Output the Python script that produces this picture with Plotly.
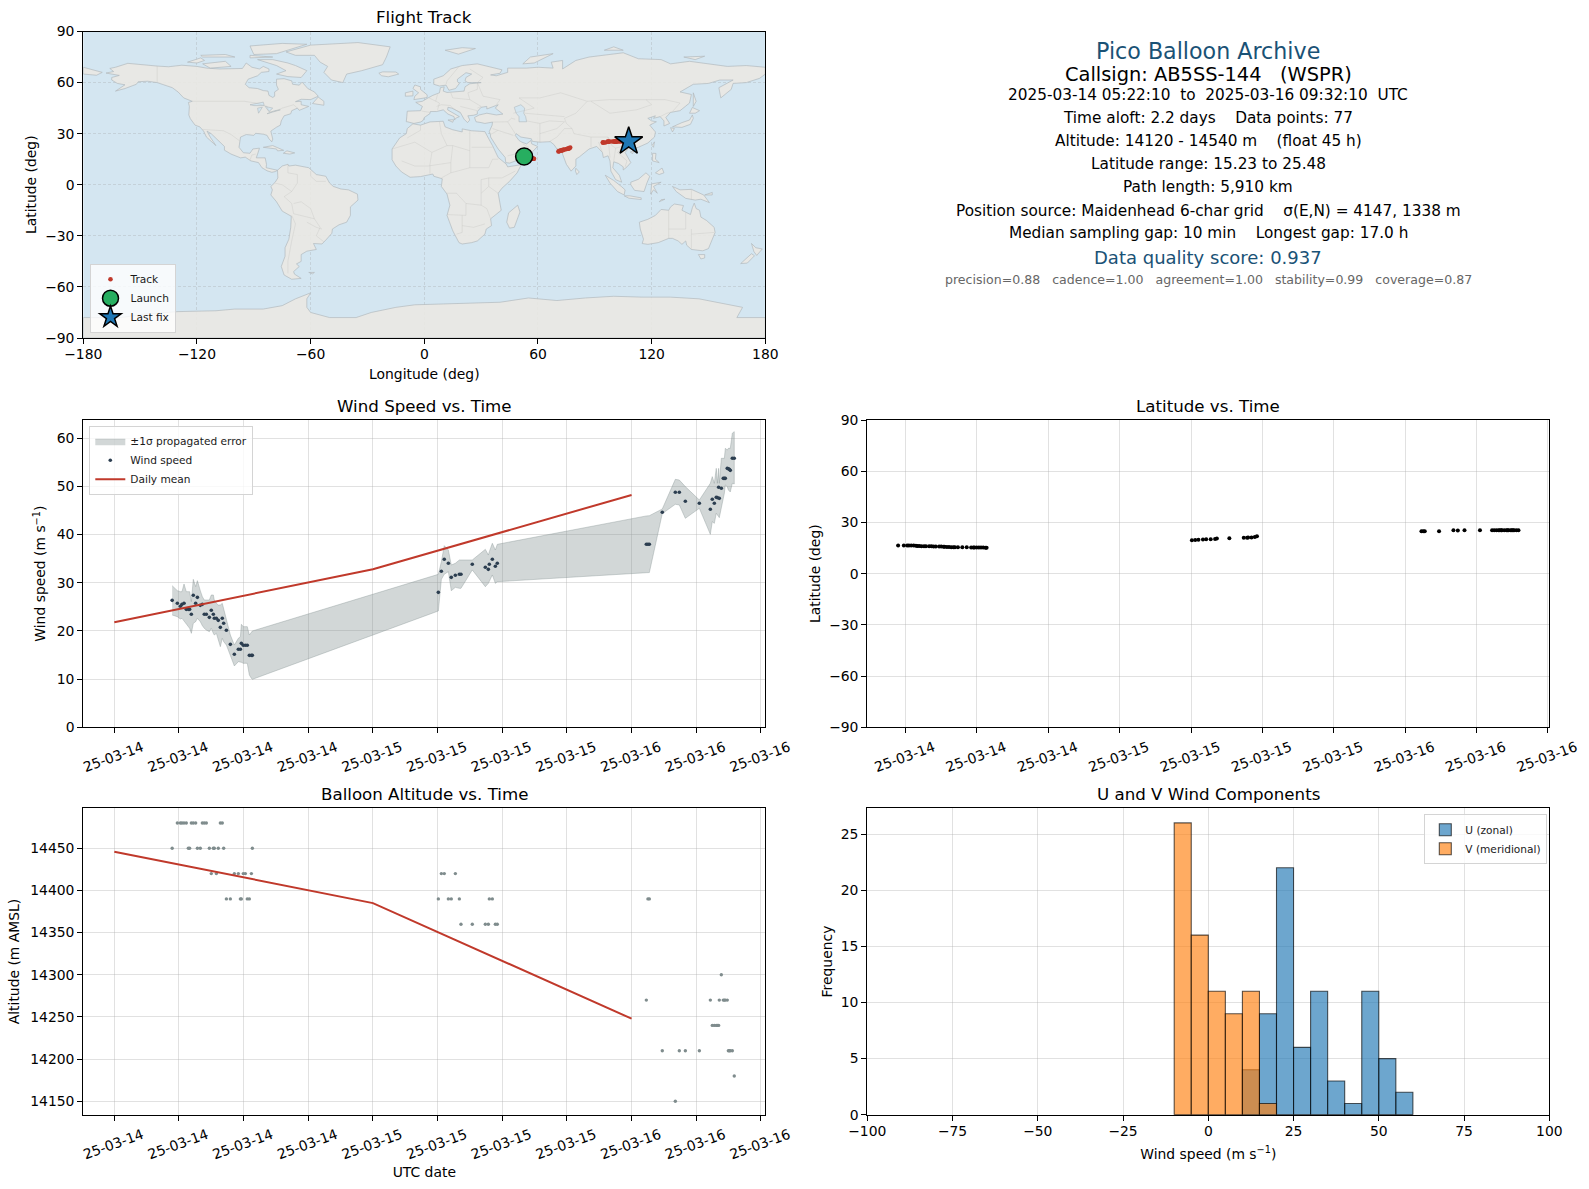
import pandas as pd
import plotly.graph_objects as go

# ---------- time series (hours after 2025-03-14 00:00 UTC) ----------
BASE = pd.Timestamp("2025-03-14 00:00:00")
hours = [5.37,5.85,6.13,6.28,6.47,6.68,6.87,6.99,7.15,7.33,7.55,7.71,7.98,8.17,8.35,8.54,8.82,9.00,9.19,9.28,9.47,9.65,9.84,10.02,10.15,10.40,10.77,11.14,11.51,11.70,11.79,11.97,12.16,12.34,12.53,12.72,12.81,
         30.07,30.35,30.62,31.00,31.27,31.65,32.02,32.17,33.22,34.43,34.71,34.80,35.08,35.36,35.54,
         49.37,49.52,49.65,50.85,52.06,52.43,52.99,54.29,55.31,55.49,55.68,55.86,55.96,56.08,56.14,56.33,56.51,56.61,56.70,56.88,56.98,57.07,57.16,57.35,57.53]
wind = [26.34,25.72,25.10,25.51,25.72,24.47,24.47,24.47,23.44,27.38,25.72,26.96,25.30,25.51,23.44,23.44,22.81,24.27,23.44,22.61,22.61,22.19,20.74,22.61,21.57,20.12,17.21,15.14,16.18,16.18,17.42,17.01,17.01,17.01,14.93,14.93,14.93,
        28.00,32.36,34.85,34.02,31.11,31.53,31.74,31.74,33.81,33.19,32.77,33.81,34.85,33.40,34.02,
        37.96,37.96,37.96,44.60,48.75,48.75,46.88,46.47,45.22,47.30,46.47,47.71,47.64,49.79,47.50,49.58,51.65,51.65,51.65,53.72,53.65,53.51,53.30,55.80,55.80]
wind_upper = [29.38,28.35,28.14,28.14,29.73,28.14,28.14,28.14,26.07,30.70,29.18,30.42,28.35,27.10,26.41,26.41,26.41,27.45,27.45,26.41,25.72,25.37,25.37,25.72,24.68,22.61,19.15,17.07,18.46,18.80,21.36,20.88,20.88,20.88,19.15,19.70,19.98,
              31.74,34.36,37.68,36.78,33.67,34.02,34.71,34.71,34.71,36.92,35.74,36.44,38.17,36.78,37.96,
              43.85,43.85,43.90,45.29,51.44,51.30,49.93,47.16,50.62,52.00,50.62,53.72,50.62,53.72,50.62,55.80,55.80,55.80,57.87,57.52,57.87,57.87,57.87,61.02,61.33]
wind_lower = [23.30,22.95,22.47,22.61,22.05,21.36,20.88,20.53,19.49,21.56,21.92,22.61,21.92,21.09,20.53,20.18,19.84,20.53,19.49,19.15,19.49,18.46,16.73,18.46,17.77,17.07,15.00,12.72,13.62,13.48,13.48,13.27,13.27,13.27,10.85,10.16,9.95,
              24.13,30.69,31.74,32.29,28.34,29.03,28.83,28.83,32.64,29.17,29.86,30.35,31.60,29.86,30.21,
              32.07,32.07,32.10,44.33,46.26,46.12,43.35,45.43,40.03,42.66,42.31,44.39,44.05,43.70,43.49,46.12,47.50,48.55,50.27,49.93,49.24,49.03,48.82,50.62,50.48]
altitude = [14450,14480,14480,14480,14480,14480,14450,14450,14480,14480,14480,14450,14450,14480,14480,14480,14450,14420,14450,14450,14420,14450,14480,14480,14450,14390,14390,14420,14420,14390,14390,14420,14420,14390,14390,14420,14450,
            14390,14420,14420,14390,14390,14420,14390,14360,14360,14360,14360,14390,14390,14360,14360,
            14270,14390,14390,14210,14150,14210,14210,14210,14270,14240,14240,14240,14240,14240,14270,14300,14270,14270,14270,14270,14210,14210,14210,14210,14180]
latitude = [16.56,16.52,16.48,16.48,16.44,16.44,16.35,16.23,16.15,16.10,16.06,16.02,15.98,15.98,15.94,15.94,15.90,15.85,15.81,15.77,15.60,15.56,15.52,15.48,15.44,15.44,15.40,15.40,15.35,15.35,15.31,15.31,15.27,15.27,15.27,15.23,15.23,
            19.52,19.69,19.85,20.02,20.10,20.19,20.27,20.60,20.73,21.02,21.10,21.15,21.23,21.40,21.85,
            24.85,24.85,24.85,24.81,25.35,25.31,25.35,25.40,25.44,25.44,25.44,25.44,25.44,25.44,25.44,25.44,25.44,25.44,25.48,25.48,25.48,25.48,25.48,25.48,25.48]
longitude = [52.7,52.8,53.0,53.1,53.2,53.3,53.5,53.6,53.7,53.8,53.9,54.1,54.2,54.3,54.4,54.5,54.6,54.8,54.9,55.0,55.1,55.3,55.4,55.5,55.7,55.8,56.0,56.2,56.4,56.6,56.7,56.8,57.0,57.2,57.4,57.7,57.9,
             70.8,71.1,71.4,71.9,72.3,72.7,73.1,73.4,74.2,75.2,75.6,75.8,76.2,76.6,77.0,
             94.2,94.4,94.6,95.6,96.8,97.2,97.8,99.2,100.2,100.4,100.6,100.9,101.0,101.1,101.2,101.4,102.2,103.0,103.8,104.6,105.2,105.8,106.4,107.2,107.9]

mean_hours = [0, 24, 48]
mean_wind = [21.8, 32.8, 48.2]
mean_altitude = [14446, 14385, 14248]

# ---------- histogram ----------
bin_centers = [-7.5, -2.5, 2.5, 7.5, 12.5, 17.5, 22.5, 27.5, 32.5, 37.5, 42.5, 47.5, 52.5, 57.5]
u_counts = [0, 0, 0, 0, 4, 9, 22, 6, 11, 3, 1, 11, 5, 2]
v_counts = [26, 16, 11, 9, 11, 1, 0, 0, 0, 0, 0, 0, 0, 0]

# ---------- basemap outlines (lon, lat) ----------
NORTH_AMERICA = [(-168,65.6),(-164,66.5),(-166,68.3),(-163,69),(-156.5,71.3),(-150,70.5),(-141,69.7),(-135,69.3),(-128,70.2),(-120,69.5),(-115,68.5),(-108,68),(-100,68),(-96,68.3),(-94,71.5),(-91,69),(-87,68),(-85,69.5),(-82,68),(-82,66.5),(-86,66),(-88,64),(-93,62),(-94.5,59),(-92.5,57),(-88,56.5),(-85,55.3),(-82.5,55),(-82,52.5),(-80,51.3),(-79,52),(-79,54.5),(-77,56),(-78,58.5),(-78,62),(-74,62.3),(-70,61),(-69.5,59),(-66,58.5),(-64.5,60.3),(-61.5,56.5),(-58,54.5),(-56,52),(-60,50),(-65,50.2),(-68,48.8),(-65,49),(-65,47),(-61,46),(-64,44.5),(-66,43.7),(-67,45),(-70,43.5),(-70.5,41.7),(-74,40.5),(-75.5,37.5),(-76,35),(-78,33.8),(-81,31.5),(-80,26.8),(-80.5,25.2),(-82,27),(-83,29),(-85,29.7),(-89,30.2),(-90,29),(-94,29.5),(-97,28),(-97.5,25),(-97.8,22),(-95.5,18.8),(-92,18.5),(-90.5,21),(-87,21.5),(-88,18),(-88.7,15.8),(-84,15.8),(-83.3,12),(-83.5,10),(-80,9),(-77.5,8.5),(-78.5,7.8),(-80.5,7.3),(-83,8.2),(-85.7,10),(-87.5,13),(-91.5,14),(-94.5,16.2),(-97,15.8),(-102,18),(-105.5,20.3),(-105.5,22.5),(-109,26),(-112.5,30),(-114.7,31.5),(-113,28),(-110,23),(-112,24.8),(-115,28),(-116.5,31.5),(-118.5,34),(-121,35),(-123.5,38.8),(-124.3,41),(-124,46),(-124.5,48.3),(-122.5,49),(-127,51),(-130,54.5),(-133,57),(-137,58.5),(-141,60),(-146,60.8),(-151,60.5),(-152,59),(-158,56.5),(-163,55),(-158,58.7),(-162,59.5),(-165,61.5),(-165,63),(-161,64.2),(-168,65.6)]
SOUTH_AMERICA = [(-77.5,8.5),(-75,11),(-72,12),(-71.5,11),(-68,11.5),(-64,10.5),(-61,10),(-57,6),(-52,5),(-50,1),(-48,-1),(-44,-2.5),(-40,-3),(-35.3,-5.5),(-35,-9),(-39,-13),(-39,-18),(-41,-22),(-45,-23.5),(-48.5,-26),(-48.8,-28.5),(-52,-32.5),(-54,-34.8),(-58.5,-34.5),(-57,-38),(-62,-39),(-65,-41),(-65,-45),(-67.5,-46.5),(-66,-48),(-69,-51),(-68.5,-52.5),(-65,-55),(-70,-55.5),(-74,-53),(-75.5,-48),(-73.5,-42),(-73.5,-37),(-71.5,-32),(-70.5,-25),(-70.2,-18.5),(-75,-15.5),(-78,-10),(-81,-6),(-80.2,-3),(-81,-1),(-78.7,1.5),(-77.3,4),(-77.5,7),(-77.5,8.5)]
AFRICA = [(-17,14.7),(-17,21),(-13,27.5),(-9.5,30),(-9,33),(-6,35.8),(-2,35),(3,36.9),(10,37.3),(11,34),(15,32.3),(20,31),(20,32.8),(25,31.7),(32,31.2),(32.5,29.9),(34,27),(36,23),(37.3,20),(39,16),(43.2,12.2),(44,10.5),(51.2,11.8),(49,7),(45,2),(41,-2),(39,-5),(39.5,-9),(40.6,-15),(35,-20),(35.5,-24),(32.7,-26),(32,-29),(28,-33),(25,-34),(20,-34.8),(18.3,-34),(15,-27),(12,-18),(13.5,-12),(12,-5.5),(9,-1),(9.5,3.5),(5,5),(4.5,6.3),(-2,4.8),(-7.5,4.4),(-12,7.5),(-15,11),(-17,14.7)]
EURASIA = [(-9.5,37),(-9,43.2),(-2,43.5),(-1,46),(-4.5,48.4),(-1,49),(2,51),(4.5,52.5),(8,54),(8.5,57),(10.5,57.5),(10,55),(12,54.2),(18,54.7),(21,55),(21.5,57.5),(24,59.3),(30,60),(23,60),(21.5,61),(22,63),(25,65),(22,65.8),(17.5,62),(17.5,60.5),(18.5,59.5),(16.5,56.5),(13,55.5),(11.5,58.5),(8,58),(5,59),(5,62),(10,64),(14,68),(20,70),(28,71),(33,69.5),(41,67.5),(40,65.5),(35,64.5),(38,64),(44,66),(44,68.5),(54,68.5),(60,69),(68,68.5),(67,72),(73,73),(73,68),(80,73),(87,75),(100,77),(105,77.5),(113,74),(125,73.5),(130,71),(140,72.5),(160,69.5),(170,70),(180,69),(180,65),(177,62.5),(170,60),(163,59.5),(162,56),(156.5,51),(155.5,57),(163,61.5),(156,61.5),(150,59.5),(142,59),(135,54.5),(141,53),(140,48),(135,43.5),(130,42.5),(127.5,39.5),(129.5,36),(126.5,34.5),(126.5,37.5),(124.5,40),(121,39),(122,40.5),(118,39),(120,37.5),(122.5,37),(119,35),(122,31),(121.5,28),(118,24.5),(113,22),(110,21),(108,21.5),(106,19),(109,13),(107,10.5),(105,8.7),(105,10.5),(102.5,12.5),(100,13.5),(99.5,10),(103,5.5),(104.2,1.5),(101,3),(98.5,8),(98,14),(97,17),(94.5,16),(94,19),(91,22.5),(87,21),(82,16.5),(80,15),(80,11),(77.5,8),(75,12),(73,18),(72.5,21),(70,21),(68.5,23.5),(66.5,25.3),(61,25),(57,25.5),(56.5,27),(51,28),(48.5,30),(48,29),(50,26),(51.5,25),(54,24),(56.3,26),(56.7,24),(59.8,22.5),(55,17),(52,15.5),(45,12.7),(43,13),(42.7,16),(39,21),(35,28),(34.9,29.5),(34.3,31.2),(35.8,35),(36,36.8),(32,36),(30,36.5),(27.3,37),(26.5,39.5),(29,41),(33,42),(38,41),(41.5,41.5),(37.5,45),(39,47),(35,45.5),(33,44.5),(33,46),(30,45.5),(28,43),(28,41.5),(26,40.8),(23,40.5),(24,38),(22.8,36.5),(21,38.5),(19.5,41),(19,42.5),(14.5,45),(12.5,45.5),(12.3,44),(16,41.8),(18.5,40),(16.5,39),(16,38),(15.7,40),(12.5,41.5),(10,44),(6.5,43),(3.2,43),(3,41.8),(0,39.5),(-0.7,37.7),(-2,36.8),(-5.5,36),(-9,37),(-9.5,37)]
EAST_SIBERIA_WRAP = [(-180,69),(-175,67.5),(-170,66),(-173,64.3),(-180,65),(-180,69)]
AUSTRALIA = [(113.5,-22),(114,-26),(115.7,-32),(115,-34.5),(118,-35),(123.5,-34),(129,-31.5),(131,-31.5),(134,-33),(136,-35),(138,-33),(138.5,-35.5),(141,-38),(144,-38.3),(147,-38.8),(150,-37.5),(151.3,-33.8),(153.5,-28),(153,-25),(149,-21),(146,-19),(145.3,-15),(143.5,-14),(142.5,-10.8),(141.5,-13.5),(140.5,-17.5),(136,-15),(136.8,-12.2),(132,-11.3),(130,-13),(129,-15),(125,-14.5),(122,-18),(118,-20.3),(113.5,-22)]
ANTARCTICA = [(-180,-78),(-160,-78),(-148,-76),(-130,-74.5),(-110,-74),(-100,-73),(-85,-73),(-75,-71),(-68,-67),(-60,-63.5),(-62,-67),(-62,-72),(-60,-75),(-50,-78),(-36,-78),(-28,-75),(-15,-72),(-5,-70.5),(10,-70),(30,-69.5),(40,-69),(55,-66.5),(70,-68),(85,-66.5),(100,-65.5),(115,-66),(130,-66),(145,-67),(160,-70),(168,-72),(165,-78),(180,-78),(180,-90),(-180,-90),(-180,-78)]
GREENLAND = [(-73,78),(-60,82),(-35,83.5),(-18,81),(-20,75),(-22,70.5),(-33,67),(-41,65),(-43,60),(-49,61.5),(-53,66),(-51,69.5),(-55,72),(-58,76),(-68,76),(-73,78)]
BAFFIN = [(-80,73.5),(-72,71.5),(-68,70),(-62,67),(-65,63),(-72,63.5),(-78,65),(-73,67),(-78,70),(-88,73.5),(-80,73.5)]
VICTORIA_IS = [(-117,71),(-105,72.5),(-102,69.5),(-113,68.5),(-117,71)]
ELLESMERE = [(-90,76.5),(-78,77),(-62,82.5),(-75,83),(-92,81.5),(-90,76.5)]
BANKS = [(-125,72),(-118,74.5),(-116,73),(-120,71.5),(-125,72)]
MELVILLE = [(-117,75),(-118,76),(-105,76.5),(-100,75),(-117,75)]
DEVON = [(-92,76),(-80,75),(-92,74.5),(-92,76)]
NEWFOUNDLAND = [(-59,47.7),(-53,46.7),(-53,49),(-56,51.5),(-59,47.7)]
ICELAND = [(-24,65.5),(-22,66.3),(-15,66.2),(-13.5,65),(-19,63.4),(-22.5,64),(-24,65.5)]
CUBA = [(-85,22),(-80,23),(-74.2,20.2),(-77.5,19.9),(-78,21),(-85,22)]
HISPANIOLA = [(-74.4,18.5),(-72.5,19.9),(-68.4,18.7),(-71,18),(-74.4,18.5)]
MADAGASCAR = [(49.3,-12),(50.5,-16),(47.5,-25),(45,-25.5),(43.5,-22),(44.5,-16.5),(49.3,-12)]
GREAT_BRITAIN = [(-5.5,50),(1.5,51.2),(1.5,52.8),(-2,56),(-2,57.5),(-5,58.6),(-6,56.5),(-3,54),(-5,52),(-5.5,50)]
IRELAND = [(-10,52),(-6,52.2),(-6,55),(-10,54),(-10,52)]
NOVAYA_ZEMLYA = [(52,71),(56,75),(68,77),(58,71.5),(52,71)]
SVALBARD = [(11,79),(20,80.5),(27,80),(18,76.7),(11,79)]
SEVERNAYA = [(95,79),(105,79),(100,81),(95,79)]
NEW_SIBERIAN = [(137,75),(148,75.5),(143,73.5),(137,75)]
SAKHALIN = [(142,54),(143.5,49),(142,46),(142,50),(142,54)]
HONSHU = [(131,34),(136,36.5),(140,38),(141.5,41),(142,39),(140.5,35.5),(136,33.7),(131,34)]
HOKKAIDO = [(140,42),(141.5,45.4),(145.3,43.5),(143,42),(140,42)]
KYUSHU = [(130,33.5),(132,33),(131,31),(130,33.5)]
TAIWAN = [(120.2,23),(121.5,25.2),(121,22),(120.2,23)]
HAINAN = [(108.7,19.2),(110.5,20),(110,18.3),(108.7,19.2)]
LUZON = [(120.5,18.5),(122.3,18.4),(122,15),(124,13),(120.5,14),(120.5,18.5)]
MINDANAO = [(122,7),(125.5,9.8),(126.5,7),(124,6),(122,7)]
SRI_LANKA = [(80,9.7),(81.8,7.5),(80.5,6),(79.8,8),(80,9.7)]
BORNEO = [(109,1.5),(113,3.2),(117,7),(119,5),(117.5,1),(116,-4),(111,-3.3),(109,0),(109,1.5)]
SUMATRA = [(95.5,5.6),(100,2.5),(104,-1),(106,-3),(105.5,-6),(102,-4),(98,1),(95.5,5.6)]
JAVA = [(105.5,-6.5),(108.5,-6.5),(114.5,-7.7),(114.5,-8.7),(108,-7.9),(105.5,-6.5)]
SULAWESI = [(119.5,-5.5),(120,0.5),(125,1.5),(121,-1),(123,-5),(121,-3),(119.5,-5.5)]
NEW_GUINEA = [(131,-1),(135,-3),(141,-2.7),(147.5,-6),(150.5,-10.5),(146,-8.5),(143,-9),(138,-8),(133,-4),(131,-1)]
NEW_BRITAIN = [(148,-6),(152,-4.5),(152,-6),(148,-6)]
TIMOR = [(124,-10),(127,-8.5),(125,-8.8),(124,-10)]
TASMANIA = [(144.7,-41),(148,-41),(148,-43),(146,-43.6),(144.7,-41)]
NZ_NORTH = [(172.7,-34.5),(175,-37),(178.4,-37.7),(175.5,-41.5),(174,-39.3),(172.7,-34.5)]
NZ_SOUTH = [(172.7,-40.5),(174.3,-41.7),(170.5,-46),(167,-46.3),(172.7,-40.5)]
FALKLANDS = [(-61,-51.5),(-58,-51.5),(-59,-52.3),(-61,-51.5)]
SICILY_SARDINIA = [(12.5,38),(15.5,38.2),(15,36.7),(12.5,38)]
CASPIAN = [(50,37),(54,37),(53.5,40),(52.5,42),(53,45),(51,47),(47.5,45.5),(48.5,42),(50,40),(50,37)]
SUPERIOR = [(-92,47),(-85,48.5),(-84.5,46.5),(-90,46.5),(-92,47)]
MICHIGAN = [(-87.5,42),(-85.5,45.5),(-88,45),(-87.5,42)]
HURON = [(-84,46),(-80,45),(-82,43),(-84,46)]
ERIE_ONTARIO = [(-83,41.7),(-79,42.8),(-76,44),(-79,43.5),(-83,41.7)]
BORDERS = [
    [(-141,69.7),(-141,60)], [(-122.5,49),(-95,49),(-89,48),(-83,46),(-82,43),(-79,43),(-75,45),(-69,47),(-67,45)],
    [(-117,32.5),(-106,31.7),(-102,29.5),(-97.5,25.8)], [(-92,14.5),(-91,17.5),(-89,18)],
    [(-72,12),(-72,7),(-67,6),(-67,1),(-70,-4),(-74,-7),(-70,-11),(-69,-17),(-58,-20),(-55,-25),(-57,-30),(-53,-33.5)],
    [(-70,-18),(-68,-23),(-70,-33),(-72,-45),(-72,-52)], [(-79,1),(-75,0),(-70,-4)], [(-69,-11),(-65,-10),(-60,-14),(-58,-20)],
    [(-60,8),(-60,5),(-57,2),(-52,2)], [(-62,-22),(-57,-25),(-54,-26)],
    [(-9,27.5),(-2,32),(-2,35)], [(8,37),(9,30),(12,23),(15,23),(24,20),(24,31.5)], [(25,22),(36,22)], [(24,20),(24,10),(34,10),(36,15),(39,15)],
    [(-17,21),(-5,25),(4,19),(12,23)], [(4,19),(3,12),(3,6.5)], [(-12,14),(-5,11),(2,11),(14,13),(15,23)], [(14,13),(14,7),(9,4)], [(14,7),(24,10)],
    [(12,-5),(17,-5),(22,-11),(30,-12),(30,-5),(30,3),(34,4),(41,4),(48,8)], [(34,4),(34,-1),(39,-5)], [(34,-1),(30,-5)], [(22,-11),(22,-18),(12,-17.5)], [(20,-18),(20,-28),(17,-29)], [(20,-24),(26,-25),(32,-23)],[(30,-12),(33,-14),(35,-20)],
    [(-1.5,43.3),(3,42.5)], [(2.5,51),(8,48),(7,44)], [(6,49),(7,53)], [(15,51),(14,54)], [(15,51),(24,50),(23,54),(28,56),(28,60)], [(24,50),(30,46),(28,45)], [(14,46.5),(9,47),(6.5,46)], [(24,68),(31,63),(28,60)], [(18,69),(12,61),(11.5,59)], [(14,46),(19,42)], [(19,46),(28,43.5)],
    [(28,60),(31,52),(40,50),(38,47)], [(47,42),(58,45),(50,51),(61,51),(72,54),(86,49),(98,50),(108,50),(117,50),(127,50),(135,48),(131,43)],
    [(86,49),(80,42),(74,39),(75,36),(78,33),(79,30),(88,28),(97,28),(99,23),(101,21.5),(106,23),(108,21.5)],
    [(88,49),(98,42),(112,44),(120,47),(117,50)], [(36,36.8),(44,37),(48,30)], [(44,37),(46,39),(48,38.5)], [(36,33),(39,32),(47,29)],[(34.9,29.5),(39,32)], [(44,17),(52,19),(55,22),(52,24)],
    [(61,25),(61,30),(61,36),(54,37.5)], [(61,30),(70,33),(74,37)], [(61,36),(66,37.5),(74,37)], [(53,42),(66,41),(74,40)], [(66,25.3),(70,28),(74,33),(78,33)], [(88,28),(88,22)], [(92,25),(94,19)], [(97,28),(98,16)], [(101,21.5),(100,14)], [(106,23),(102,19),(107,14),(106,10.5)], [(124.5,40),(128,42),(130,42.5)], [(141,-2.7),(141,-9)],
    [(129,-15),(129,-31.5)], [(138,-16.5),(138,-26),(129,-26)], [(141,-26),(141,-38)], [(141,-29),(153,-28)],
]

# ---------- info panel text ----------
info_title = "Pico Balloon Archive"
info_callsign = "Callsign: AB5SS-144   (WSPR)"
info_lines = ["2025-03-14 05:22:10  to  2025-03-16 09:32:10  UTC",
              "Time aloft: 2.2 days    Data points: 77",
              "Altitude: 14120 - 14540 m    (float 45 h)",
              "Latitude range: 15.23 to 25.48",
              "Path length: 5,910 km",
              "Position source: Maidenhead 6-char grid    σ(E,N) = 4147, 1338 m",
              "Median sampling gap: 10 min    Longest gap: 17.0 h"]
info_score = "Data quality score: 0.937"
info_components = "precision=0.88   cadence=1.00   agreement=1.00   stability=0.99   coverage=0.87"

# ---------- layout constants ----------
W, H = 1589, 1189
FONT = "DejaVu Sans"
RED = "#c0392b"
GRID = "rgba(176,176,176,0.38)"
LEFT = (83.3, 765.3)
RIGHT = (867.3, 1549.3)
ROW1 = (31.5, 338.0)
ROW2 = (420.0, 727.3)
ROW3 = (808.3, 1114.7)


def xdom(p):
    return [p[0] / W, p[1] / W]


def ydom(p):
    return [1 - p[1] / H, 1 - p[0] / H]


def to_time(hs):
    return [BASE + pd.Timedelta(hours=h) for h in hs]


def rings(parts):
    xs, ys = [], []
    for part in parts:
        xs += [p[0] for p in part] + [None]
        ys += [p[1] for p in part] + [None]
    return xs, ys


times = to_time(hours)

common = dict(showline=True, mirror=True, linecolor="black", linewidth=1.1,
              ticks="outside", ticklen=5, tickwidth=1.1, tickcolor="black",
              showgrid=True, gridcolor=GRID, gridwidth=1, zeroline=False,
              automargin=False, tickfont=dict(family=FONT, size=13.9, color="black"))
date_axis = dict(common, type="date", tick0="2025-03-14", dtick=21600000,
                 tickformat="%y-%m-%d", tickangle=-20, ticklabelshift=28, ticklabelstandoff=1)
map_grid = dict(griddash="3px,2px", gridcolor="rgba(150,150,150,0.26)", gridwidth=0.7)

fig = go.Figure()

# --- Map ---
land_parts = [NORTH_AMERICA, SOUTH_AMERICA, AFRICA, EURASIA, EAST_SIBERIA_WRAP, AUSTRALIA, ANTARCTICA, GREENLAND,
              BAFFIN, VICTORIA_IS, ELLESMERE, BANKS, MELVILLE, DEVON, NEWFOUNDLAND, ICELAND, CUBA, HISPANIOLA,
              MADAGASCAR, GREAT_BRITAIN, IRELAND, NOVAYA_ZEMLYA, SVALBARD, SEVERNAYA, NEW_SIBERIAN, SAKHALIN,
              HONSHU, HOKKAIDO, KYUSHU, TAIWAN, HAINAN, LUZON, MINDANAO, SRI_LANKA, BORNEO, SUMATRA, JAVA,
              SULAWESI, NEW_GUINEA, NEW_BRITAIN, TIMOR, TASMANIA, NZ_NORTH, NZ_SOUTH, FALKLANDS, SICILY_SARDINIA]
lx, ly = rings(land_parts)
fig.add_trace(go.Scatter(x=lx, y=ly, mode="lines", fill="toself", fillcolor="rgba(234,232,226,0.88)",
                         line=dict(color="rgba(176,184,188,0.75)", width=0.9), showlegend=False,
                         hoverinfo="skip", xaxis="x", yaxis="y"))
wx, wy = rings([CASPIAN, SUPERIOR, MICHIGAN, HURON, ERIE_ONTARIO])
fig.add_trace(go.Scatter(x=wx, y=wy, mode="lines", fill="toself", fillcolor="#d4e6f1",
                         line=dict(color="rgba(176,184,188,0.75)", width=0.8), showlegend=False,
                         hoverinfo="skip", xaxis="x", yaxis="y"))
bx, by = rings(BORDERS)
fig.add_trace(go.Scatter(x=bx, y=by, mode="lines", line=dict(color="rgba(190,192,188,0.45)", width=0.7),
                         showlegend=False, hoverinfo="skip", xaxis="x", yaxis="y"))
fig.add_trace(go.Scatter(x=longitude, y=latitude, mode="markers", name="Track",
                         marker=dict(color=RED, size=4.6), xaxis="x", yaxis="y", legend="legend"))
fig.add_trace(go.Scatter(x=longitude[:1], y=latitude[:1], mode="markers", name="Launch",
                         marker=dict(color="#27ae60", size=17, line=dict(color="black", width=1.5)),
                         xaxis="x", yaxis="y", legend="legend"))
fig.add_trace(go.Scatter(x=longitude[-1:], y=latitude[-1:], mode="markers", name="Last fix",
                         marker=dict(color="#1f77b4", symbol="star", size=21, line=dict(color="black", width=1.5)),
                         xaxis="x", yaxis="y", legend="legend"))

# --- Wind speed ---
fig.add_trace(go.Scatter(x=times + times[::-1], y=wind_upper + wind_lower[::-1], mode="lines", fill="toself",
                         fillcolor="rgba(127,140,141,0.35)", line=dict(color="rgba(127,140,141,0.35)", width=1),
                         name="±1σ propagated error", xaxis="x3", yaxis="y3", legend="legend2", hoverinfo="skip"))
fig.add_trace(go.Scatter(x=times, y=wind, mode="markers", name="Wind speed",
                         marker=dict(color="#2c3e50", size=3.6), xaxis="x3", yaxis="y3", legend="legend2"))
fig.add_trace(go.Scatter(x=to_time(mean_hours), y=mean_wind, mode="lines", name="Daily mean",
                         line=dict(color=RED, width=2), xaxis="x3", yaxis="y3", legend="legend2"))

# --- Latitude ---
fig.add_trace(go.Scatter(x=times, y=latitude, mode="markers", showlegend=False,
                         marker=dict(color="black", size=4), xaxis="x4", yaxis="y4"))

# --- Altitude ---
fig.add_trace(go.Scatter(x=times, y=altitude, mode="markers", showlegend=False,
                         marker=dict(color="#7f8c8d", size=3.4), xaxis="x5", yaxis="y5"))
fig.add_trace(go.Scatter(x=to_time(mean_hours), y=mean_altitude, mode="lines", showlegend=False,
                         line=dict(color=RED, width=2), xaxis="x5", yaxis="y5"))

# --- Histogram ---
edge = dict(color="rgba(0,0,0,0.65)", width=1.1)
fig.add_trace(go.Bar(x=bin_centers, y=u_counts, width=5, name="U (zonal)",
                     marker=dict(color="rgba(31,119,180,0.65)", line=edge), xaxis="x6", yaxis="y6", legend="legend3"))
fig.add_trace(go.Bar(x=bin_centers, y=v_counts, width=5, name="V (meridional)",
                     marker=dict(color="rgba(255,127,14,0.65)", line=edge), xaxis="x6", yaxis="y6", legend="legend3"))


def axis_title(text, standoff):
    return dict(text=text, font=dict(family=FONT, size=13.9, color="black"), standoff=standoff)


legend_base = dict(bgcolor="rgba(255,255,255,0.8)", bordercolor="#d4d4d4", borderwidth=1,
                   font=dict(family=FONT, size=10.6, color="#1a1a1a"), xanchor="left",
                   tracegroupgap=0, itemwidth=30)
time_range_wide = to_time([-2.877, 60.41])
time_range_lat = to_time([2.78, 60.12])

fig.update_layout(
    width=W, height=H, autosize=False, showlegend=True, barmode="overlay",
    paper_bgcolor="white", plot_bgcolor="white",
    margin=dict(l=0, r=0, t=0, b=0),
    font=dict(family=FONT, size=13.9, color="black"),
    xaxis=dict(common, **map_grid, domain=xdom(LEFT), range=[-180, 180], tick0=-180, dtick=60,
               title=axis_title("Longitude (deg)", 8), anchor="y", ticklabelstandoff=-2),
    yaxis=dict(common, **map_grid, domain=ydom(ROW1), range=[-90, 90], tick0=-90, dtick=30,
               title=axis_title("Latitude (deg)", 5), anchor="x"),
    xaxis3=dict(date_axis, range=time_range_wide, domain=xdom(LEFT), anchor="y3"),
    yaxis3=dict(common, domain=ydom(ROW2), range=[0, 63.75], tick0=0, dtick=10,
                title=axis_title("Wind speed (m s<sup>−1</sup>)", 7), anchor="x3"),
    xaxis4=dict(date_axis, range=time_range_lat, domain=xdom(RIGHT), anchor="y4"),
    yaxis4=dict(common, domain=ydom(ROW2), range=[-90, 90], tick0=-90, dtick=30,
                title=axis_title("Latitude (deg)", 5), anchor="x4"),
    xaxis5=dict(date_axis, range=time_range_wide, domain=xdom(LEFT), anchor="y5", title=axis_title("UTC date", 5)),
    yaxis5=dict(common, domain=ydom(ROW3), range=[14134.1, 14497.4], tick0=14150, dtick=50, tickformat="d",
                title=axis_title("Altitude (m AMSL)", 7), anchor="x5"),
    xaxis6=dict(common, domain=xdom(RIGHT), range=[-100, 100], tick0=-100, dtick=25, anchor="y6",
                title=axis_title("Wind speed (m s<sup>−1</sup>)", 10), ticklabelstandoff=-1),
    yaxis6=dict(common, domain=ydom(ROW3), range=[0, 27.3], tick0=0, dtick=5,
                title=axis_title("Frequency", 4), anchor="x6"),
    legend=dict(legend_base, x=89.5 / W, y=1 - 332.7 / H, yanchor="bottom"),
    legend2=dict(legend_base, x=89.3 / W, y=1 - 425.7 / H, yanchor="top"),
    legend3=dict(legend_base, x=1424.3 / W, y=1 - 814.3 / H, yanchor="top"),
    shapes=[dict(type="rect", xref="x domain", yref="y domain", x0=0, x1=1, y0=0, y1=1,
                 fillcolor="#d4e6f1", line_width=0, layer="below")],
)

# subplot titles
titles = [("Flight Track", LEFT, ROW1), ("Wind Speed vs. Time", LEFT, ROW2), ("Latitude vs. Time", RIGHT, ROW2),
          ("Balloon Altitude vs. Time", LEFT, ROW3), ("U and V Wind Components", RIGHT, ROW3)]
for text, px, py in titles:
    fig.add_annotation(text=text, xref="paper", yref="paper", x=sum(px) / 2 / W, y=1 - py[0] / H,
                       xanchor="center", yanchor="bottom", yshift=2, showarrow=False,
                       font=dict(family=FONT, size=16.67, color="black"))

# info panel
center_x = sum(RIGHT) / 2 / W
panel = [(info_title, 22.2, "#1a5276", 51), (info_callsign, 19.4, "black", 74.4)]
panel += [(line, 15.3, "black", y) for line, y in zip(info_lines, [94.7, 118.2, 141.4, 164.3, 187.3, 210.6, 233.3])]
panel += [(info_score, 18, "#1a5276", 257.7), (info_components, 12.57, "#666666", 279.1)]
for text, size, color, y in panel:
    fig.add_annotation(text=text, xref="paper", yref="paper", x=center_x, y=1 - y / H, xanchor="center",
                       yanchor="middle", showarrow=False, font=dict(family=FONT, size=size, color=color))

fig.write_html("out.html", post_script="document.body.style.margin='0';", config={"displayModeBar": False})
